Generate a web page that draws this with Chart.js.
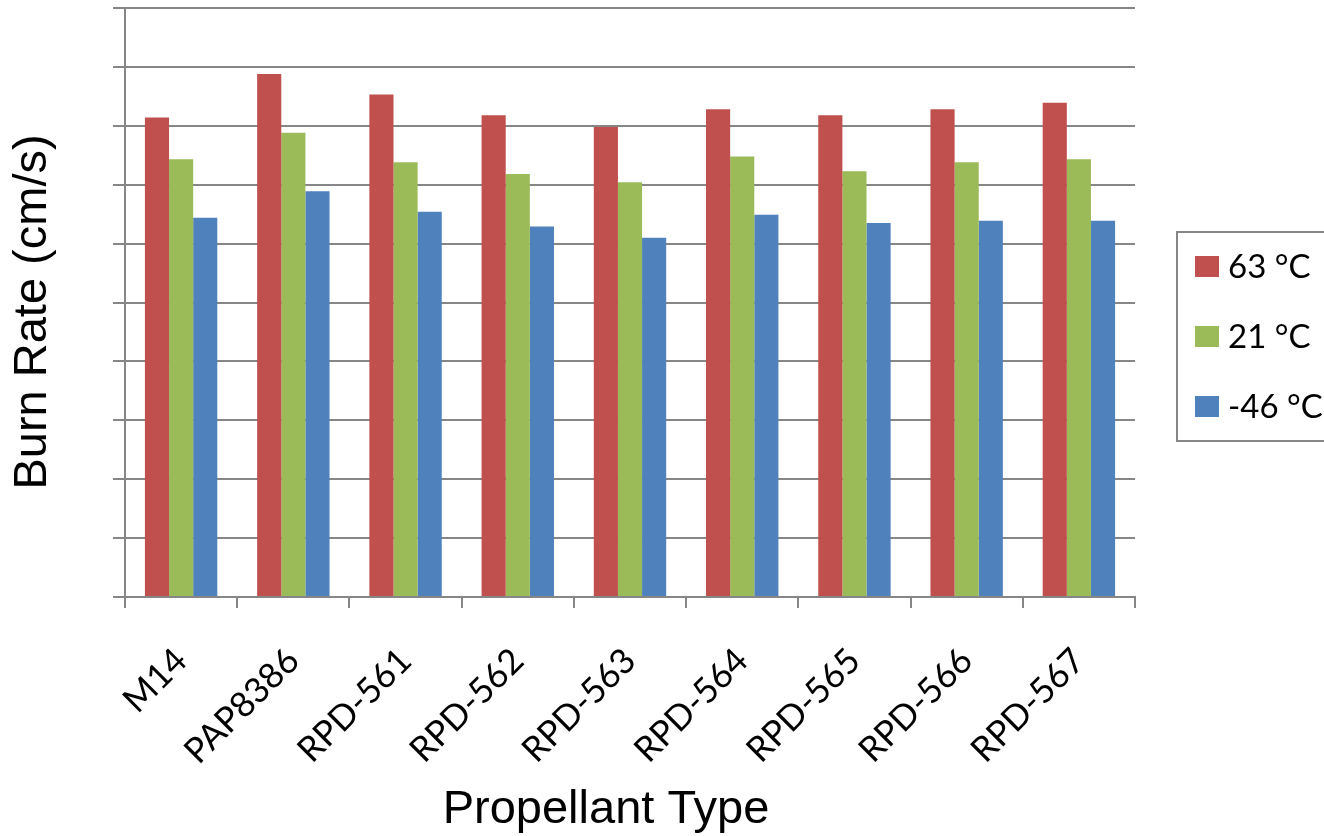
<!DOCTYPE html>
<html>
<head>
<meta charset="utf-8">
<title>Burn Rate by Propellant Type</title>
<script src="https://cdn.jsdelivr.net/npm/chart.js@4.4.1/dist/chart.umd.min.js"></script>
<style>
  html, body { margin: 0; padding: 0; background: #ffffff; }
  #wrap { width: 1324px; height: 836px; }
</style>
</head>
<body>
<div id="wrap"><canvas id="chart" width="1324" height="836"></canvas></div>
<script>
// Propellant samples along the category axis
const propellants = ['M14', 'PAP8386', 'RPD-561', 'RPD-562', 'RPD-563', 'RPD-564', 'RPD-565', 'RPD-566', 'RPD-567'];

// Burn rate at each conditioning temperature (cm/s)
const rate63C  = [8.14, 8.88, 8.53, 8.18, 7.98, 8.28, 8.18, 8.28, 8.39];
const rate21C  = [7.43, 7.88, 7.38, 7.18, 7.04, 7.48, 7.23, 7.38, 7.43];
const rateM46C = [6.44, 6.89, 6.54, 6.29, 6.10, 6.49, 6.35, 6.39, 6.39];

const seriesLabels = ['63 °C', '21 °C', '-46 °C'];
const seriesColors = ['#C0504D', '#9BBB59', '#4F81BD'];

const yMin = 0, yMax = 10, yStep = 1;

const GRID = '#868686';
const LABEL_FONT = 'Lato, "Open Sans", sans-serif';
const TITLE_FONT = '"Liberation Sans", Arial, sans-serif';

// Axis titles and the boxed legend, painted after the chart
const decorations = {
  id: 'decorations',
  afterDraw(chart) {
    const ctx = chart.ctx;
    ctx.save();
    ctx.fillStyle = '#000';
    ctx.font = '47px ' + TITLE_FONT;
    ctx.textAlign = 'center';
    ctx.textBaseline = 'middle';
    ctx.fillText('Propellant Type', 606, 810);

    ctx.save();
    ctx.translate(33, 312);
    ctx.rotate(-Math.PI / 2);
    ctx.fillText('Burn Rate (cm/s)', 0, 0);
    ctx.restore();

    // legend frame
    ctx.strokeStyle = GRID;
    ctx.lineWidth = 2;
    ctx.strokeRect(1177, 232, 170, 209);

    ctx.font = '33px ' + LABEL_FONT;
    ctx.textAlign = 'left';
    chart.data.datasets.forEach((ds, i) => {
      const cy = 266 + i * 70;
      ctx.fillStyle = ds.backgroundColor;
      ctx.fillRect(1195, cy - 10, 24, 21);
      ctx.fillStyle = '#000';
      ctx.fillText(ds.label, 1228, cy + 1);
    });
    ctx.restore();
  }
};

new Chart(document.getElementById('chart'), {
  type: 'bar',
  data: {
    labels: propellants,
    datasets: [
      { label: seriesLabels[0], data: rate63C,  backgroundColor: seriesColors[0] },
      { label: seriesLabels[1], data: rate21C,  backgroundColor: seriesColors[1] },
      { label: seriesLabels[2], data: rateM46C, backgroundColor: seriesColors[2] }
    ]
  },
  options: {
    responsive: false,
    animation: false,
    layout: { padding: { top: 8, right: 189, left: 0, bottom: 0 } },
    datasets: {
      bar: { categoryPercentage: 0.645, barPercentage: 1.0, borderWidth: 0 }
    },
    plugins: {
      legend: { display: false },
      tooltip: { enabled: false }
    },
    scales: {
      x: {
        afterFit(scale) { scale.height = 239; },
        grid: {
          offset: true,
          drawOnChartArea: true,
          color: (c) => (c.index === propellants.length ? GRID : 'rgba(0,0,0,0)'),
          lineWidth: 2,
          drawTicks: true,
          tickLength: 11,
          tickWidth: 2,
          tickColor: GRID
        },
        border: { display: true, color: GRID, width: 2 },
        ticks: {
          autoSkip: false,
          maxRotation: 45,
          minRotation: 45,
          padding: 32,
          color: '#000',
          font: { family: LABEL_FONT, size: 35 }
        }
      },
      y: {
        min: yMin,
        max: yMax,
        afterFit(scale) { scale.width = 125; },
        grid: {
          color: GRID,
          lineWidth: 2,
          drawTicks: true,
          tickLength: 12,
          tickColor: GRID
        },
        border: { display: true, color: GRID, width: 2 },
        ticks: { display: false, stepSize: yStep }
      }
    }
  },
  plugins: [decorations]
});
</script>
</body>
</html>
